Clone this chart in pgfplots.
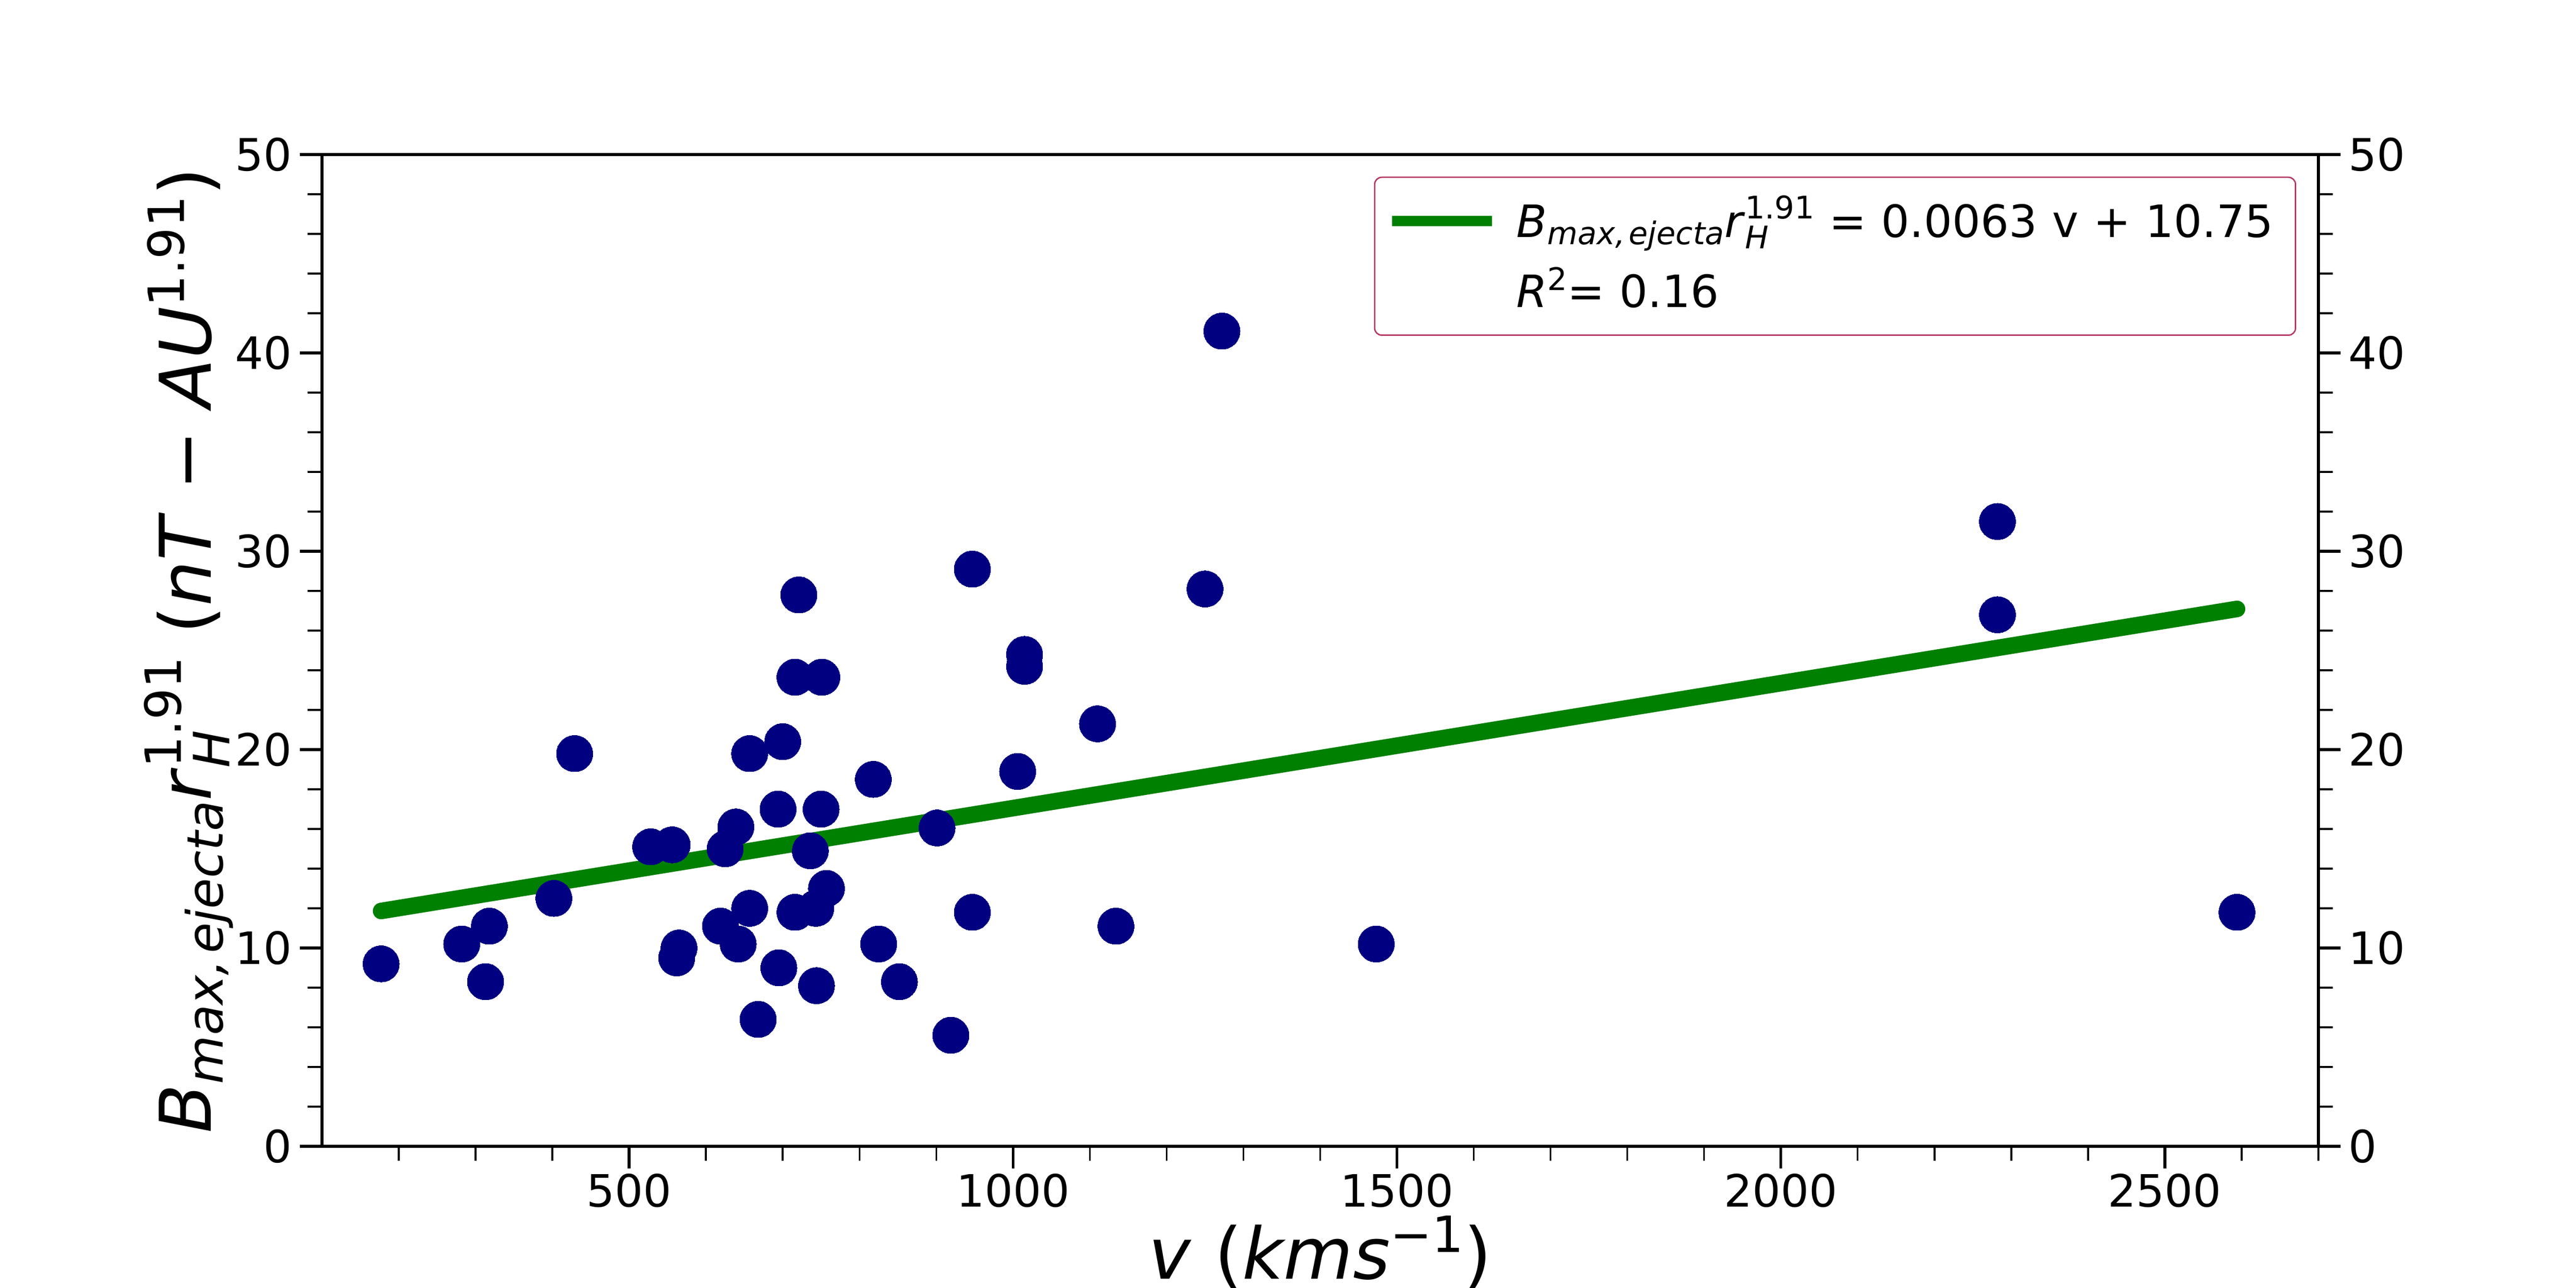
\documentclass[border=0pt]{standalone}
\usepackage{fontspec}
\setmainfont{DejaVu Sans}
\usepackage{pgfplots}
\pgfplotsset{compat=1.18}
\definecolor{navyc}{RGB}{0,0,128}
\definecolor{greenc}{RGB}{0,128,0}
\definecolor{legendedge}{RGB}{180,60,100}
\newcommand{\lo}[1]{\raisebox{-0.16em}{\scalebox{0.7}{#1}}}
\newcommand{\hi}[1]{\raisebox{0.38em}{\scalebox{0.7}{#1}}}
\newcommand{\lohi}[2]{\rlap{\raisebox{-0.26em}{\scalebox{0.7}{#1}}}\raisebox{0.42em}{\scalebox{0.7}{#2}}}
\newcommand{\Bexpr}{\textit{B}\lo{\textit{max,\kern0.12em ejecta}}\textit{r}\lohi{\textit{H}}{1.91}}

\pgfplotstableread{
x y
177 9.2
282 10.2
318 11.1
313 8.3
429 19.8
402 12.5
528 15.1
556 15.2
565 10.0
562 9.5
625 15.0
639 16.1
657 19.8
700 20.4
694 17.0
750 17.0
736 14.9
757 13.0
619 11.1
657 12.0
642 10.2
695 9.0
668 6.4
744 8.1
716 11.8
743 12.0
716 23.65
751 23.65
721 27.8
818 18.5
825 10.2
852 8.3
919 5.6
901 16.05
947 11.8
947 29.1
1015 24.8
1015 24.2
1110 21.3
1006 18.9
1134 11.1
1250 28.1
1272 41.1
1473 10.2
2282 31.5
2282 26.8
2594 11.8
}\pts

\begin{document}
\begin{tikzpicture}
\path[use as bounding box] (0,0) rectangle (20in,10in);
\begin{axis}[
  at={(2.5in,1.1in)}, anchor=south west,
  scale only axis, width=15.5in, height=7.7in,
  xmin=100, xmax=2700, ymin=0, ymax=50,
  xtick={500,1000,...,2500}, minor xtick={200,300,...,2700},
  ytick={0,10,...,50}, minor ytick={2,4,...,48},
  xtick pos=left, ytick pos=left,
  tick align=outside,
  major tick length=12.5pt, minor tick length=8pt,
  every major tick/.append style={line width=1.6pt, black},
  every minor tick/.append style={line width=1pt, black},
  axis line style={line width=1.6pt},
  tick label style={font=\fontsize{25}{30}\selectfont},
  /pgf/number format/assume math mode=true,
  /pgf/number format/1000 sep={},
  xticklabel style={inner sep=0pt, yshift=-2.8pt},
  yticklabel style={inner sep=0pt, xshift=-4.1pt},
  xlabel={\textit{v} (\textit{kms}\hi{−1})},
  ylabel={\Bexpr{} (\textit{nT} − \textit{AU}\hi{1.91})},
  xlabel style={at={(axis description cs:0.5,-0.134)}, anchor=base, inner sep=0pt, font=\fontsize{40}{48}\selectfont},
  ylabel style={at={(axis description cs:-0.0555,0.5)}, anchor=base, inner sep=0pt, font=\fontsize{40}{48}\selectfont},
  legend cell align=left,
  legend style={
    at={(axis description cs:0.98890,0.97782)}, anchor=north east,
    draw=legendedge, line width=0.8pt, rounded corners=4pt, fill=white,
    inner xsep=7pt, inner ysep=4.85pt, row sep=0pt,
    font=\fontsize{25}{30}\selectfont,
    nodes={inner sep=0pt, text height=28.75pt, text depth=10.7pt, text width=430pt, align=left},
    /tikz/every odd column/.append style={column sep=11pt},
  },
  legend image code/.code={\draw[#1, line width=5.8pt, line cap=butt, rounded corners=0pt] (0pt,0pt) -- (55.9pt,0pt);},
]
\addplot[only marks, mark=*, mark size=10.2pt, mark options={draw=navyc, fill=navyc, line width=0pt}, forget plot] table[x=x, y=y] {\pts};
\addplot[greenc, line width=9.3pt, line cap=round] coordinates {(177,11.8651) (2594,27.0922)};
\addlegendentry{\mbox{\Bexpr{} = 0.0063 v + 10.75}}
\addlegendimage{empty legend}
\addlegendentry{\mbox{\textit{R}\hi{2}= 0.16}}
\end{axis}
\begin{axis}[
  at={(2.5in,1.1in)}, anchor=south west,
  scale only axis, width=15.5in, height=7.7in,
  xmin=100, xmax=2700, ymin=0, ymax=50,
  hide x axis,
  ytick={0,10,...,50}, minor ytick={2,4,...,48},
  ytick pos=right, yticklabel pos=right,
  tick align=outside,
  major tick length=12.5pt, minor tick length=8pt,
  every major tick/.append style={line width=1.6pt, black},
  every minor tick/.append style={line width=1pt, black},
  axis line style={line width=1.6pt},
  tick label style={font=\fontsize{25}{30}\selectfont},
  /pgf/number format/assume math mode=true,
  yticklabel style={inner sep=0pt, xshift=4.1pt},
]
\addplot[draw=none, forget plot] coordinates {(1000,10)};
\end{axis}
\end{tikzpicture}
\end{document}
